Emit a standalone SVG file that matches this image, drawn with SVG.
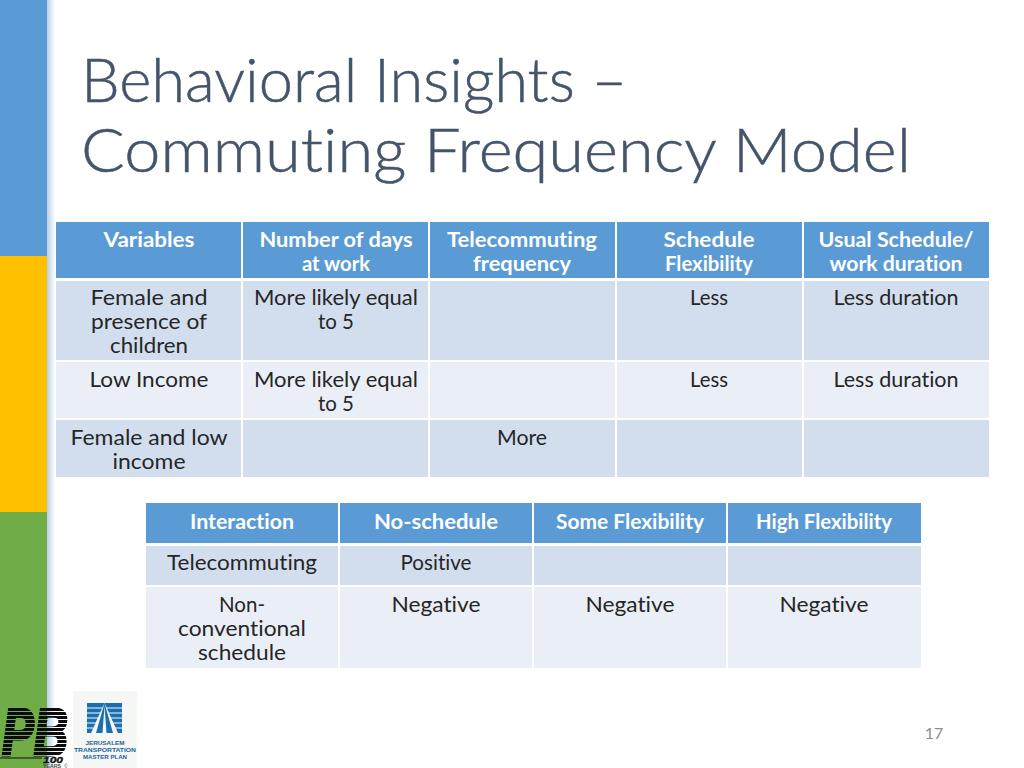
<svg xmlns="http://www.w3.org/2000/svg" width="1024" height="768" viewBox="0 0 1024 768">
<style>
text{font-family:"Lato","Liberation Sans",sans-serif;text-anchor:middle;font-variant-ligatures:none}
.t{font-size:62px;font-weight:300;fill:#44546a;stroke:#44546a;stroke-width:.5;text-anchor:start}
.h{font-size:21px;font-weight:700;fill:#fff}
.c{font-size:21.5px;fill:#262626}
.hd{fill:#5b9bd5}.a{fill:#d2deee}.b{fill:#eaeff7}
.g{stroke:#fff;stroke-width:2;fill:none}
.l{font-family:"Liberation Sans",sans-serif;font-weight:700}
</style>
<defs>
<linearGradient id="fade"><stop offset="0" stop-color="#b8cfe6"/><stop offset="1" stop-color="#fff"/></linearGradient>
<pattern id="stripes" width="4" height="4" patternUnits="userSpaceOnUse"><rect width="4" height="3" fill="#0c0c0c"/></pattern>
</defs>
<rect width="1024" height="768" fill="#fff"/>
<g id="sidebar">
<rect x="47" width="8" height="768" fill="url(#fade)"/>
<rect width="47" height="256" fill="#5b9bd5"/>
<rect y="256" width="47" height="256" fill="#ffc000"/>
<rect y="512" width="47" height="256" fill="#70ad47"/>
</g>
<g id="title">
<text class="t" x="81" y="102" textLength="546" lengthAdjust="spacingAndGlyphs">Behavioral Insights –</text>
<text class="t" x="81" y="172" textLength="830" lengthAdjust="spacingAndGlyphs">Commuting Frequency Model</text>
</g>
<g id="table1">
<rect class="hd" x="56" y="222" width="933" height="56"/>
<rect class="a" x="56" y="281" width="933" height="80"/>
<rect class="b" x="56" y="361" width="933" height="58"/>
<rect class="a" x="56" y="419" width="933" height="58"/>
<path class="g" d="M242 222V477M429 222V477M616 222V477M803 222V477M56 361H989M56 419H989"/>
<g class="h">
<text x="149" y="247" textLength="91" lengthAdjust="spacingAndGlyphs">Variables</text>
<text x="336" y="247" textLength="153" lengthAdjust="spacingAndGlyphs">Number of days</text><text x="336" y="271" textLength="68" lengthAdjust="spacingAndGlyphs">at work</text>
<text x="522" y="247" textLength="150" lengthAdjust="spacingAndGlyphs">Telecommuting</text><text x="522" y="271" textLength="98" lengthAdjust="spacingAndGlyphs">frequency</text>
<text x="709" y="247" textLength="91" lengthAdjust="spacingAndGlyphs">Schedule</text><text x="709" y="271" textLength="88" lengthAdjust="spacingAndGlyphs">Flexibility</text>
<text x="896" y="247" textLength="155" lengthAdjust="spacingAndGlyphs">Usual Schedule/</text><text x="896" y="271" textLength="133" lengthAdjust="spacingAndGlyphs">work duration</text>
</g>
<g class="c">
<text x="149" y="305" textLength="117" lengthAdjust="spacingAndGlyphs">Female and</text><text x="149" y="329" textLength="116" lengthAdjust="spacingAndGlyphs">presence of</text><text x="149" y="353" textLength="78" lengthAdjust="spacingAndGlyphs">children</text>
<text x="336" y="305" textLength="164" lengthAdjust="spacingAndGlyphs">More likely equal</text><text x="336" y="329" textLength="36" lengthAdjust="spacingAndGlyphs">to 5</text>
<text x="709" y="305" textLength="38" lengthAdjust="spacingAndGlyphs">Less</text>
<text x="896" y="305" textLength="125" lengthAdjust="spacingAndGlyphs">Less duration</text>
<text x="149" y="387" textLength="119" lengthAdjust="spacingAndGlyphs">Low Income</text>
<text x="336" y="387" textLength="164" lengthAdjust="spacingAndGlyphs">More likely equal</text><text x="336" y="411" textLength="36" lengthAdjust="spacingAndGlyphs">to 5</text>
<text x="709" y="387" textLength="38" lengthAdjust="spacingAndGlyphs">Less</text>
<text x="896" y="387" textLength="125" lengthAdjust="spacingAndGlyphs">Less duration</text>
<text x="149" y="445" textLength="157" lengthAdjust="spacingAndGlyphs">Female and low</text><text x="149" y="469" textLength="73" lengthAdjust="spacingAndGlyphs">income</text>
<text x="522" y="445" textLength="50" lengthAdjust="spacingAndGlyphs">More</text>
</g>
</g>
<g id="table2">
<rect class="hd" x="146" y="503" width="775" height="40"/>
<rect class="a" x="146" y="546" width="775" height="40"/>
<rect class="b" x="146" y="586" width="775" height="82"/>
<path class="g" d="M339 503V668M533 503V668M727 503V668M146 586H921"/>
<g class="h">
<text x="242" y="529" textLength="104" lengthAdjust="spacingAndGlyphs">Interaction</text>
<text x="436" y="529" textLength="124" lengthAdjust="spacingAndGlyphs">No-schedule</text>
<text x="630" y="529" textLength="148" lengthAdjust="spacingAndGlyphs">Some Flexibility</text>
<text x="824" y="529" textLength="136" lengthAdjust="spacingAndGlyphs">High Flexibility</text>
</g>
<g class="c">
<text x="242" y="570" textLength="150" lengthAdjust="spacingAndGlyphs">Telecommuting</text>
<text x="436" y="570" textLength="71" lengthAdjust="spacingAndGlyphs">Positive</text>
<text x="242" y="612" textLength="46" lengthAdjust="spacingAndGlyphs">Non-</text><text x="242" y="636" textLength="128" lengthAdjust="spacingAndGlyphs">conventional</text><text x="242" y="660" textLength="88" lengthAdjust="spacingAndGlyphs">schedule</text>
<text x="436" y="612" textLength="89" lengthAdjust="spacingAndGlyphs">Negative</text>
<text x="630" y="612" textLength="89" lengthAdjust="spacingAndGlyphs">Negative</text>
<text x="824" y="612" textLength="89" lengthAdjust="spacingAndGlyphs">Negative</text>
</g>
</g>
<g id="logo-pb">
<text class="l" x="35" y="755" style="font-size:66px;font-style:italic;font-weight:700" fill="url(#stripes)" stroke="url(#stripes)" stroke-width="3" textLength="66" lengthAdjust="spacingAndGlyphs">PB</text>
<path d="M0 758H42" stroke="#111" stroke-width="1"/>
<text class="l" x="53" y="763" style="font-size:9px;font-style:italic" fill="#111" stroke="#111" stroke-width=".3" textLength="20" lengthAdjust="spacingAndGlyphs">100</text>
<text class="l" x="52" y="768" style="font-size:4.500px" fill="#444" textLength="18" lengthAdjust="spacingAndGlyphs">YEARS</text>
<text class="l" x="66" y="768" style="font-size:4.500px;font-weight:400" fill="#444">©</text>
</g>
<g id="logo-jtmp">
<rect x="73" y="691" width="64" height="77" fill="#f5f7f4"/>
<path d="M87 703H122V733H87Z" fill="#1a6fb0"/>
<path d="M87 708H122M87 713H122M87 718H122M87 723H122M87 728H122" stroke="#f5f7f4" stroke-width="1.200"/>
<path d="M104.500 703L91 733H118Z" fill="#f5f7f4"/>
<path d="M104.500 703L96 733H113Z" fill="#1a6fb0"/>
<path d="M104.500 706L102.500 733H106.500Z" fill="#f5f7f4"/>
<g fill="#1a5f9e">
<text class="l" x="105" y="745" style="font-size:5.500px" textLength="39" lengthAdjust="spacingAndGlyphs">JERUSALEM</text>
<text class="l" x="105" y="752" style="font-size:5.500px" textLength="62" lengthAdjust="spacingAndGlyphs">TRANSPORTATION</text>
<text class="l" x="105" y="759" style="font-size:5.500px" textLength="44" lengthAdjust="spacingAndGlyphs">MASTER PLAN</text>
</g>
</g>
<text id="page-number" x="934" y="739" style="font-size:16px" fill="#8b8b8b">17</text>
</svg>
